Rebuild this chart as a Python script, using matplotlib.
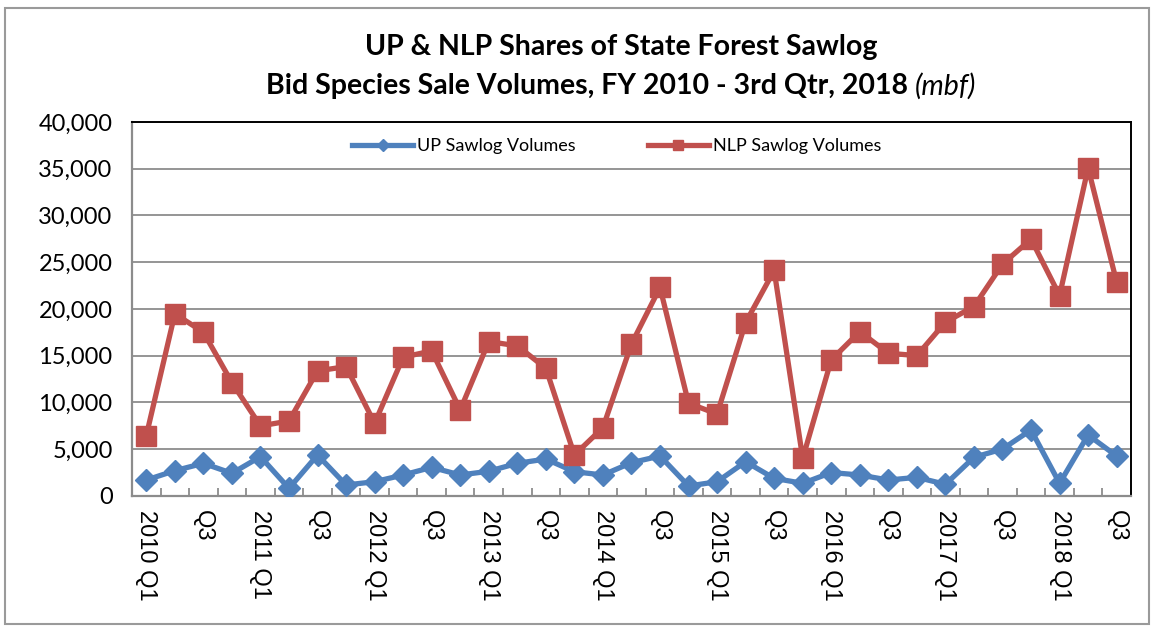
import matplotlib
matplotlib.use("Agg")
import matplotlib.pyplot as plt
from matplotlib.patches import Rectangle
from matplotlib.ticker import FuncFormatter, MultipleLocator, FixedLocator

# ── 数据 ──────────────────────────────────────────────
QUARTERS = [f"{y} Q{q}" for y in range(2010, 2019) for q in range(1, 5)][:35]
TICK_LABELS = [("Q3" if q.endswith("Q3") else q) if i % 2 == 0 else ""
               for i, q in enumerate(QUARTERS)]

UP_VOLUMES = [
    1680, 2680, 3470, 2400, 4180, 790, 4360, 1150, 1500, 2220, 3040, 2220,
    2620, 3470, 3930, 2570, 2220, 3540, 4250, 1040, 1500, 3640, 1860, 1330,
    2480, 2220, 1680, 1970, 1220, 4110, 5000, 7040, 1330, 6500, 4250,
]
NLP_VOLUMES = [
    6430, 19470, 17510, 12110, 7470, 8000, 13360, 13820, 7760, 14830, 15500, 9180,
    16500, 16040, 13650, 4360, 7290, 16250, 22290, 9900, 8750, 18540, 24110, 4000,
    14540, 17570, 15250, 15000, 18580, 20250, 24790, 27470, 21430, 35080, 22860,
]

BLUE = "#4F81BD"
RED = "#C0504D"
GRID = "#8C8C8C"

fig = plt.figure(figsize=(11.54, 6.26), dpi=100)
ax = fig.add_axes([0.1144, 0.2081, 0.8656, 0.597])

x = list(range(len(QUARTERS)))
ax.plot(x, UP_VOLUMES, color=BLUE, lw=3.8, marker="D", ms=11,
        label="UP Sawlog Volumes", zorder=3)
ax.plot(x, NLP_VOLUMES, color=RED, lw=3.8, marker="s", ms=14,
        label="NLP Sawlog Volumes", zorder=3)

ax.set_xlim(-0.5, len(QUARTERS) - 0.5)
ax.set_ylim(0, 40000)
ax.yaxis.set_major_locator(MultipleLocator(5000))
ax.yaxis.set_major_formatter(FuncFormatter(lambda v, _: f"{v:,.0f}"))
ax.grid(axis="y", color=GRID, lw=1.3, zorder=1)
ax.tick_params(axis="y", length=0, pad=14, labelsize=17)
for t in ax.get_yticklabels():
    t.set_family("Lato")

ax.set_xticks(x)
ax.set_xticklabels(TICK_LABELS, rotation=-90, family="Liberation Sans",
                   fontsize=17, va="top", ha="center")
ax.tick_params(axis="x", which="major", length=0, pad=10)
ax.xaxis.set_minor_locator(FixedLocator([i + 0.5 for i in x[:-1]]))
ax.tick_params(axis="x", which="minor", direction="in", length=6,
               width=1.3, color=GRID)

for side in ("left", "bottom"):
    ax.spines[side].set_color(GRID)
    ax.spines[side].set_linewidth(1.6)
for side in ("top", "right"):
    ax.spines[side].set_color("black")
    ax.spines[side].set_linewidth(1.4)

ax.legend(loc="upper center", bbox_to_anchor=(0.485, 1.0), ncol=2,
          frameon=False, prop={"family": "Lato", "size": 13},
          markerscale=0.55, handlelength=3.4, columnspacing=4,
          handletextpad=0.2)

# 标题：第二行末尾 (mbf) 为斜体非粗体，分两段拼接
TITLE_1 = "UP & NLP Shares of State Forest Sawlog"
TITLE_2A = "Bid Species Sale Volumes, FY 2010 - 3rd Qtr, 2018 "
TITLE_2B = "(mbf)"
CX = 0.538
fig.text(CX, 0.925, TITLE_1, ha="center", va="center",
         family="Lato", fontweight="bold", fontsize=20.5)
t2a = fig.text(0, 0.862, TITLE_2A, ha="left", va="center",
               family="Lato", fontweight="bold", fontsize=20.5)
t2b = fig.text(0, 0.862, TITLE_2B, ha="left", va="center",
               family="Lato", style="italic", fontsize=20.5)
r = fig.canvas.get_renderer()
wa = t2a.get_window_extent(r).width / fig.bbox.width
wb = t2b.get_window_extent(r).width / fig.bbox.width
x0 = CX - (wa + wb) / 2
t2a.set_x(x0)
t2b.set_x(x0 + wa)

fig.patches.append(Rectangle((0.004, 0.003), 0.992, 0.984, transform=fig.transFigure,
                             fill=False, edgecolor="#9A9A9A", lw=1.5))

fig.savefig("out.png", dpi=100)
